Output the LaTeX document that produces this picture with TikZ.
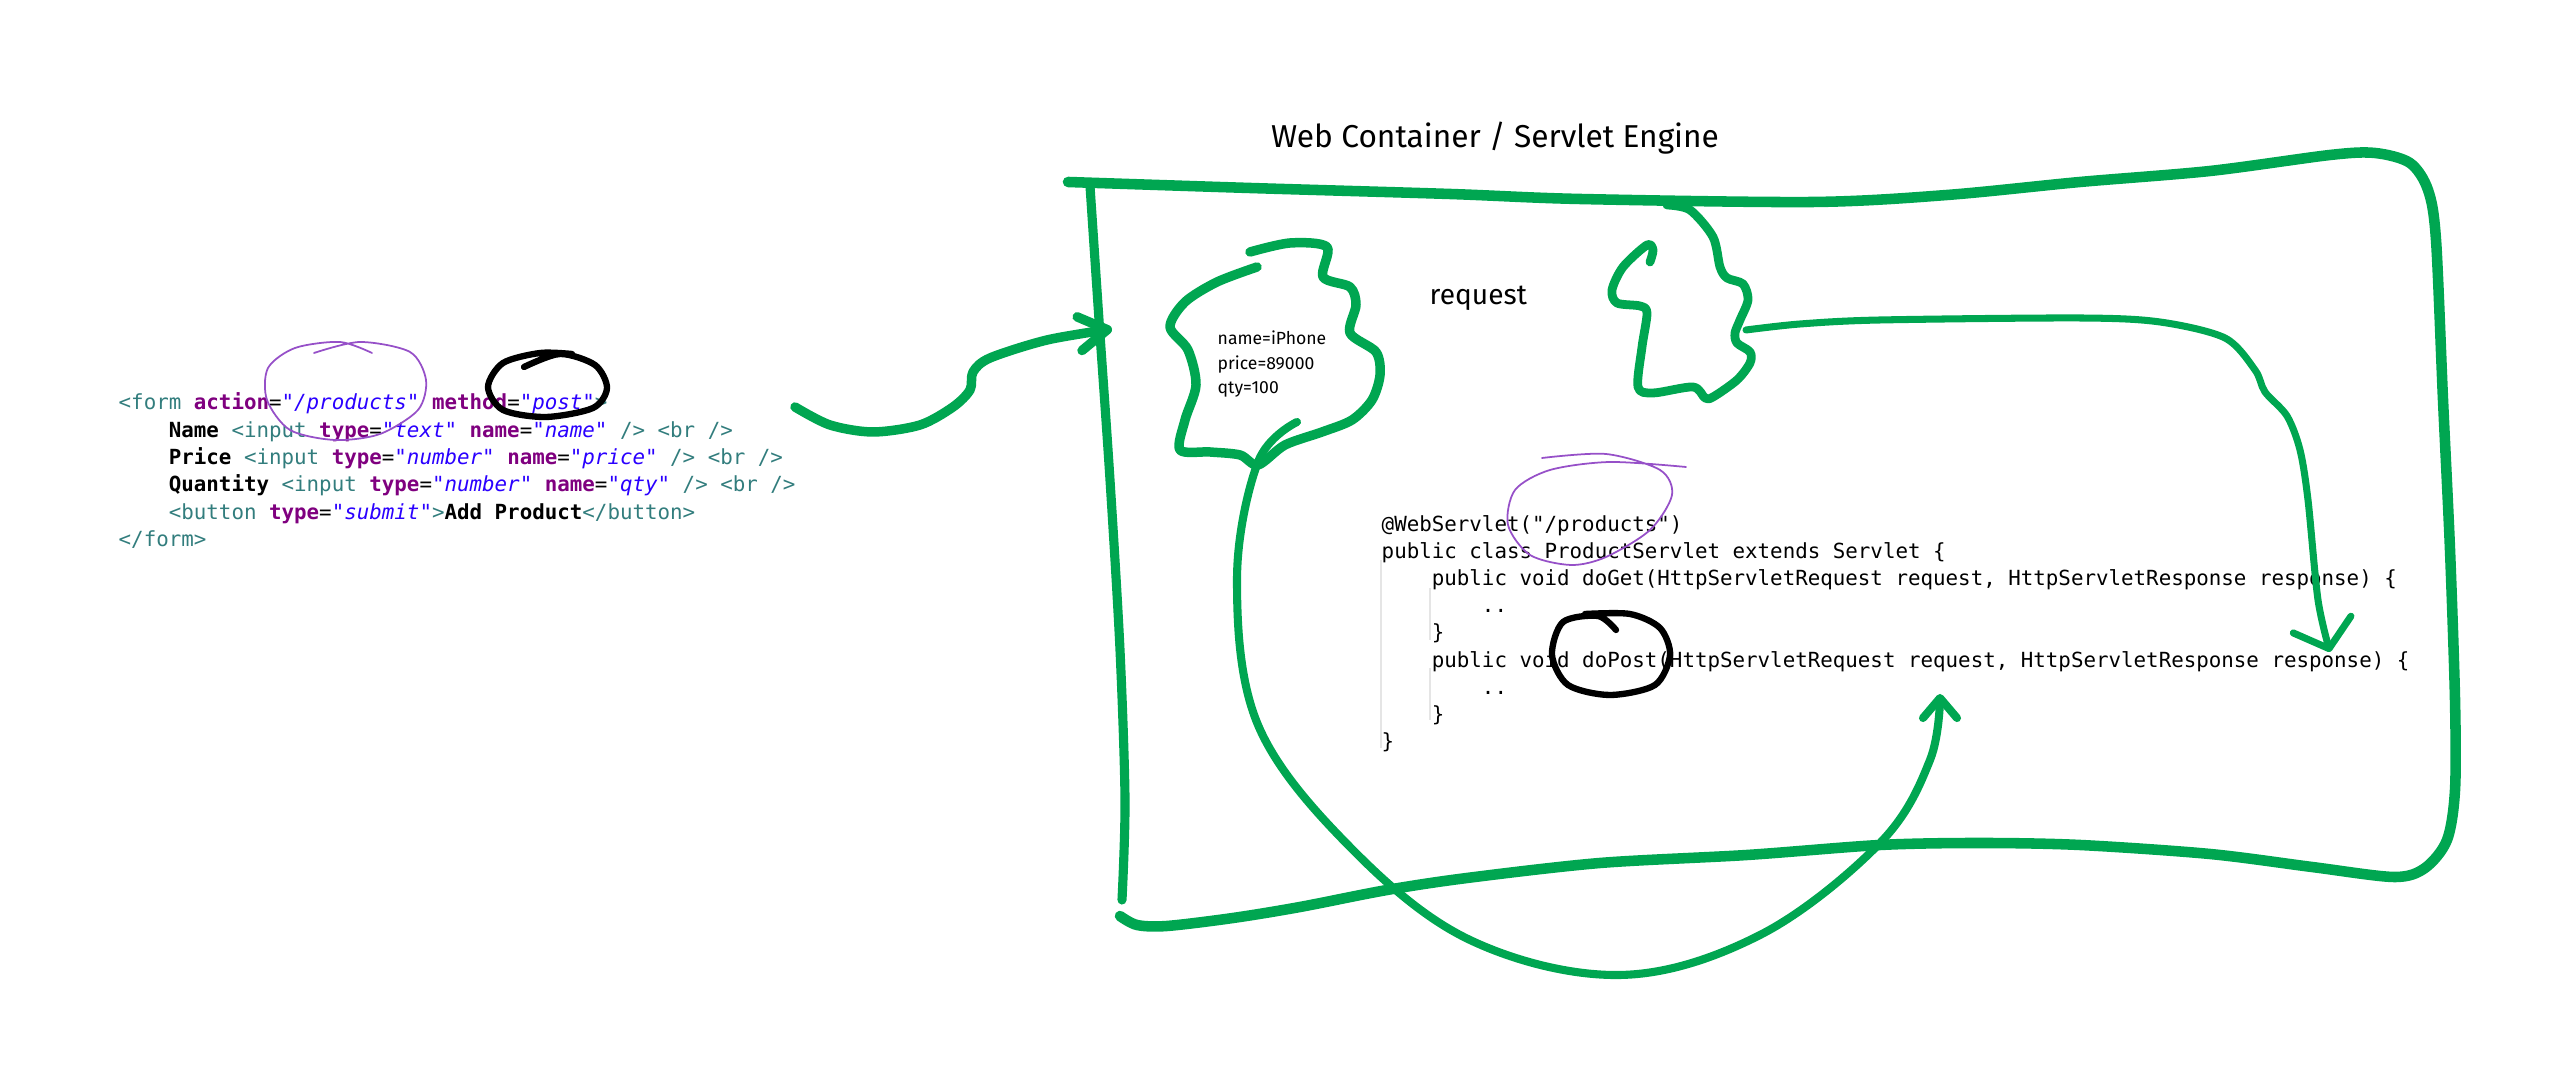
\documentclass[tikz,border=0pt]{standalone}
\usepackage{fontspec}
\setmainfont{Fira Sans}
\newfontfamily\codefont{DejaVu Sans Mono}[Ligatures=TeXOff]
\usetikzlibrary{arrows.meta}
\definecolor{inkgreen}{RGB}{0,166,81}
\definecolor{inkpurple}{RGB}{150,80,200}
\definecolor{tagteal}{RGB}{50,125,125}
\definecolor{attrpurple}{RGB}{127,0,127}
\definecolor{valblue}{RGB}{42,0,255}
\tikzset{>={Straight Barb[round]}}

\newcommand{\htag}[1]{\textcolor{tagteal}{#1}}
\newcommand{\hattr}[1]{\textcolor{attrpurple}{\bfseries #1}}
\newcommand{\hval}[1]{\textcolor{valblue}{\itshape #1}}
\newcommand{\htext}[1]{\textbf{#1}}
\newcommand{\ind}{\hphantom{0000}}

\begin{document}
\begin{tikzpicture}[x=0.01cm, y=-0.01cm,
    pen/.style={draw=inkgreen, line width=3pt, line cap=round, line join=round},
    loopline/.style={draw=inkpurple, line width=0.5pt, line cap=round},
    ring/.style={draw=black, line width=1.8pt, line cap=round},
    hand/.style={inner sep=0pt, text=black},
    code/.style={inner sep=0pt, align=left, anchor=north west, font=\codefont\fontsize{5.92}{7.8}\selectfont}]
    \useasboundingbox (0,0) rectangle (2560,1077);

    % texts
    \node[hand, anchor=base, font=\fontsize{9}{10.8}\selectfont] (title) at (1495,148) {Web Container / Servlet Engine};
    \node[hand, anchor=base west, font=\fontsize{8}{9.6}\selectfont] (reqlabel) at (1429,305) {request};
    \node[hand, anchor=north west, align=left, font=\fontsize{5}{7}\selectfont] (fields) at (1217,330) {name=iPhone\\price=89000\\qty=100};

    \node[code] (form) at (118,392) {%
        \htag{<form} \hattr{action}=\hval{"/products"} \hattr{method}=\hval{"post"}\htag{>}\\
        \ind\htext{Name} \htag{<input} \hattr{type}=\hval{"text"} \hattr{name}=\hval{"name"} \htag{/>} \htag{<br />}\\
        \ind\htext{Price} \htag{<input} \hattr{type}=\hval{"number"} \hattr{name}=\hval{"price"} \htag{/>} \htag{<br />}\\
        \ind\htext{Quantity} \htag{<input} \hattr{type}=\hval{"number"} \hattr{name}=\hval{"qty"} \htag{/>} \htag{<br />}\\
        \ind\htag{<button} \hattr{type}=\hval{"submit"}\htag{>}\htext{Add Product}\htag{</button>}\\
        \htag{</form>}};

    \draw[gray!20, line width=0.3pt] (1381,560) -- (1381,748);
    \draw[gray!20, line width=0.3pt] (1430,588) -- (1430,640);
    \draw[gray!20, line width=0.3pt] (1430,668) -- (1430,720);
    \node[code, font=\codefont\fontsize{5.92}{7.7}\selectfont] (servlet) at (1381,515) {%
        @WebServlet("/products")\\
        public class ProductServlet extends Servlet \{\\
        \ind public void doGet(HttpServletRequest request, HttpServletResponse response) \{\\
        \ind\ind ..\\
        \ind \}\\
        \ind public void doPost(HttpServletRequest request, HttpServletResponse response) \{\\
        \ind\ind ..\\
        \ind \}\\
        \}};

    % purple and black marks
    \draw[loopline] plot[smooth] coordinates {(314,353) (360,342) (410,352) (426,380) (418,410) (380,434) (335,440) (290,430) (267,400) (268,368) (295,348) (340,342) (372,353)};
    \draw[loopline] plot[smooth] coordinates {(1542,458) (1606,454) (1660,470) (1672,495) (1650,530) (1606,557) (1571,565) (1530,555) (1508,525) (1515,490) (1550,470) (1610,462) (1686,467)};
    \draw[ring] plot[smooth] coordinates {(524,367) (560,354) (595,365) (607,388) (593,408) (546,417) (503,410) (488,387) (503,363) (540,353) (572,354)};
    \draw[ring] plot[smooth] coordinates {(1616,630) (1598,616) (1563,622) (1552,655) (1568,685) (1610,695) (1655,685) (1670,655) (1660,628) (1630,614) (1585,614)};

    % container
    \draw[pen, line width=2.6pt] plot[smooth] coordinates {(1090,186) (1099,320) (1110,480) (1120,650) (1125,800) (1122,900)};
    \draw[pen] plot[smooth, tension=0.5] coordinates {(1068,182) (1250,188) (1450,194) (1580,199) (1813,202) (1947,195) (2080,182) (2210,171) (2330,155) (2375,153) (2410,163) (2428,190) (2436,240) (2443,400) (2450,550) (2455,700) (2455,790) (2447,840) (2425,868) (2394,877) (2312,867) (2210,854) (2080,845) (1980,843) (1880,845) (1747,855) (1600,863) (1467,878) (1387,890) (1300,907) (1233,918) (1167,926) (1137,925) (1120,916)};

    % request blobs
    \draw[pen, line width=2.7pt] plot[smooth, tension=0.5] coordinates {(1250,252) (1290,243) (1327,247) (1323,277) (1350,287) (1356,305) (1350,333) (1376,352) (1380,375) (1372,400) (1352,420) (1322,432) (1285,445) (1258,465) (1240,455) (1210,452) (1180,450) (1185,420) (1196,385) (1188,350) (1170,327) (1185,302) (1217,282) (1257,267)};
    \draw[pen, line width=2.5pt] plot[smooth, tension=0.5] coordinates {(1667,205) (1690,210) (1713,237) (1720,267) (1727,278) (1743,284) (1748,300) (1740,320) (1735,333) (1737,343) (1750,352) (1750,363) (1737,380) (1713,397) (1705,398) (1693,387) (1653,393) (1638,387) (1642,347) (1647,313) (1640,306) (1617,303) (1612,290) (1623,267) (1647,245) (1653,250) (1650,262)};

    % connectors
    \coordinate (formout) at (795,407);
    \coordinate (frameentry) at (1112,329);
    \coordinate (stemstart) at (1297,422);
    \coordinate (posttip) at (1940,694);
    \coordinate (b2out) at (1746,330);
    \coordinate (resptip) at (2330,652);

    \draw[pen, line width=2.7pt, -{Straight Barb[length=0.28cm, width=0.34cm, round]}] plot[smooth] coordinates {(formout) (830,425) (873,432) (920,425) (953,407) (970,390) (973,372) (990,358) (1047,340) (frameentry)};
    \draw[pen, line width=2.3pt, -{Straight Barb[length=0.2cm, width=0.34cm, round]}] plot[smooth, tension=0.6] coordinates {(stemstart) (1258,462) (1237,580) (1258,725) (1350,847) (1470,940) (1620,975) (1760,935) (1880,843) (1930,760) (posttip)};
    \draw[pen, line width=2pt, -{Straight Barb[length=0.25cm, width=0.6cm, round]}] plot[smooth, tension=0.5] coordinates {(b2out) (1800,324) (1880,320) (2080,318) (2160,322) (2225,338) (2255,370) (2265,392) (2287,416) (2300,450) (2308,500) (2318,600) (resptip)};
\end{tikzpicture}
\end{document}
